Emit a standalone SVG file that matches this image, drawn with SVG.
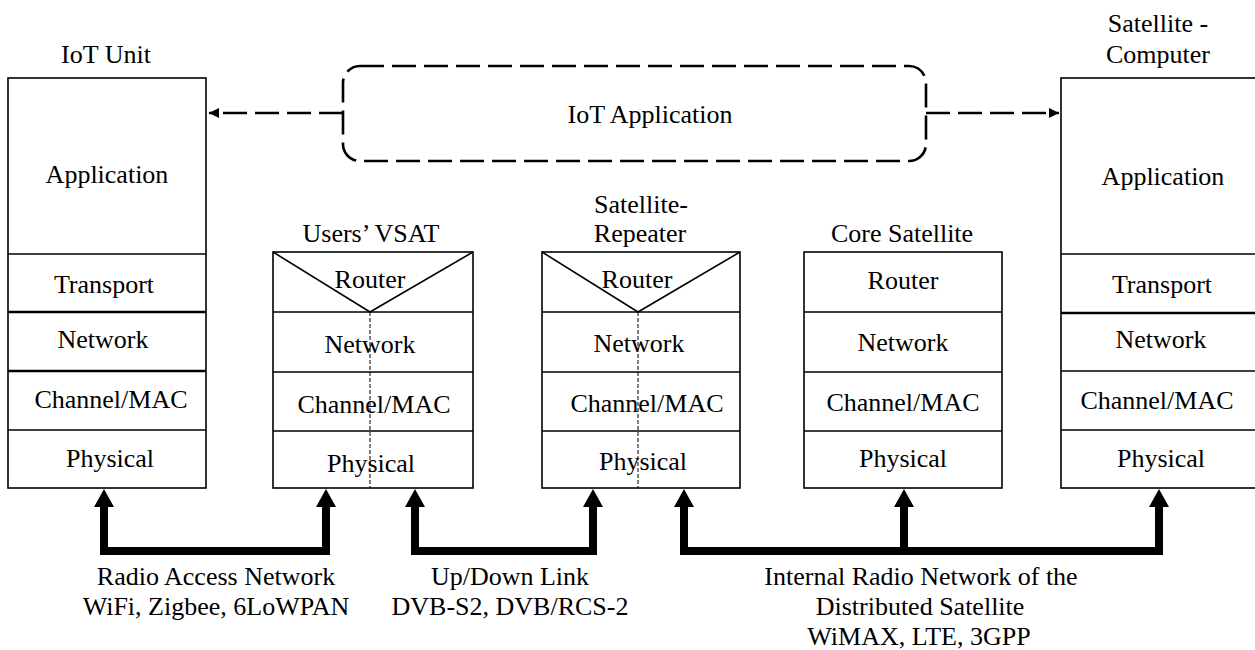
<svg xmlns="http://www.w3.org/2000/svg" width="1255" height="650" viewBox="0 0 1255 650">
  <defs>
    <style>
      text { font-family: "Liberation Serif", "Times New Roman", serif; font-size: 26px; fill: #000; text-anchor: middle; }
      .box { fill: #fff; stroke: #000; stroke-width: 1.6; }
      .div { stroke: #000; stroke-width: 1.6; }
      .divb { stroke: #000; stroke-width: 2.6; }
      .vee { fill: none; stroke: #000; stroke-width: 1.6; }
      .split { stroke: #000; stroke-width: 1; stroke-dasharray: 4 2; }
      .dash { fill: none; stroke: #000; stroke-width: 2.6; stroke-dasharray: 24 8; }
      .link { fill: none; stroke: #000; stroke-width: 8; stroke-linejoin: miter; stroke-linecap: butt; }
      .head { fill: #000; }
    </style>
    <marker id="ah" viewBox="0 0 10 10" refX="10" refY="5" markerWidth="4" markerHeight="4.5" orient="auto" markerUnits="strokeWidth">
      <path d="M0,0 L10,5 L0,10 z" fill="#000"/>
    </marker>
  </defs>

  <rect width="1255" height="650" fill="#fff"/>

  <!-- End host: IoT Unit -->
  <g id="iot-unit">
    <text x="106" y="63">IoT Unit</text>
    <rect class="box" x="8" y="78" width="198" height="410"/>
    <line class="div" x1="8" y1="254" x2="206" y2="254"/>
    <line class="divb" x1="8" y1="312" x2="206" y2="312"/>
    <line class="divb" x1="8" y1="371" x2="206" y2="371"/>
    <line class="div" x1="8" y1="430" x2="206" y2="430"/>
    <text x="107" y="183">Application</text>
    <text x="104" y="293">Transport</text>
    <text x="103" y="348">Network</text>
    <text x="111" y="408">Channel/MAC</text>
    <text x="110" y="467">Physical</text>
  </g>

  <!-- Users' VSAT -->
  <g id="users-vsat">
    <text x="371" y="242">Users’ VSAT</text>
    <rect class="box" x="273" y="252" width="200" height="236"/>
    <polyline class="vee" points="273,252 370,312 473,252"/>
    <line class="div" x1="273" y1="312" x2="473" y2="312"/>
    <line class="div" x1="273" y1="372" x2="473" y2="372"/>
    <line class="div" x1="273" y1="431" x2="473" y2="431"/>
    <line class="split" x1="370" y1="312" x2="370" y2="488"/>
    <text x="370" y="288">Router</text>
    <text x="370" y="353">Network</text>
    <text x="374" y="413">Channel/MAC</text>
    <text x="371" y="472">Physical</text>
  </g>

  <!-- Satellite repeater -->
  <g id="satellite-repeater">
    <text x="641" y="213">Satellite-</text>
    <text x="640" y="242">Repeater</text>
    <rect class="box" x="542" y="252" width="198" height="236"/>
    <polyline class="vee" points="542,252 638,312 740,252"/>
    <line class="div" x1="542" y1="312" x2="740" y2="312"/>
    <line class="div" x1="542" y1="372" x2="740" y2="372"/>
    <line class="div" x1="542" y1="431" x2="740" y2="431"/>
    <line class="split" x1="638" y1="312" x2="638" y2="488"/>
    <text x="637" y="288">Router</text>
    <text x="639" y="352">Network</text>
    <text x="647" y="412">Channel/MAC</text>
    <text x="643" y="470">Physical</text>
  </g>

  <!-- Core satellite -->
  <g id="core-satellite">
    <text x="902" y="242">Core Satellite</text>
    <rect class="box" x="804" y="252" width="198" height="236"/>
    <line class="div" x1="804" y1="312" x2="1002" y2="312"/>
    <line class="div" x1="804" y1="372" x2="1002" y2="372"/>
    <line class="div" x1="804" y1="431" x2="1002" y2="431"/>
    <text x="903" y="289">Router</text>
    <text x="903" y="351">Network</text>
    <text x="903" y="411">Channel/MAC</text>
    <text x="903" y="467">Physical</text>
  </g>

  <!-- End host: Satellite computer -->
  <g id="satellite-computer">
    <text x="1158" y="32">Satellite -</text>
    <text x="1158" y="63">Computer</text>
    <rect class="box" x="1061" y="78" width="202" height="410"/>
    <line class="div" x1="1061" y1="254" x2="1263" y2="254"/>
    <line class="divb" x1="1061" y1="313" x2="1263" y2="313"/>
    <line class="div" x1="1061" y1="371" x2="1263" y2="371"/>
    <line class="div" x1="1061" y1="430" x2="1263" y2="430"/>
    <text x="1163" y="185">Application</text>
    <text x="1162" y="293">Transport</text>
    <text x="1161" y="348">Network</text>
    <text x="1157" y="409">Channel/MAC</text>
    <text x="1161" y="467">Physical</text>
  </g>

  <!-- End-to-end application layer -->
  <g id="iot-application">
    <rect class="dash" x="343" y="66" width="583" height="95" rx="17" ry="17"/>
    <text x="650" y="123">IoT Application</text>
  </g>

  <g id="connectors">
    <!-- logical application links -->
    <line class="dash" x1="343" y1="113" x2="209" y2="113" marker-end="url(#ah)"/>
    <line class="dash" x1="926" y1="113" x2="1059" y2="113" marker-end="url(#ah)"/>

    <!-- radio access network -->
    <polyline class="link" points="104,506 104,551 326,551 326,506"/>
    <polygon class="head" points="104,489 94,507 114,507"/>
    <polygon class="head" points="326,489 316,507 336,507"/>

    <!-- up/down link -->
    <polyline class="link" points="415,506 415,551 593,551 593,506"/>
    <polygon class="head" points="415,489 405,507 425,507"/>
    <polygon class="head" points="593,489 583,507 603,507"/>

    <!-- internal radio network -->
    <polyline class="link" points="684,506 684,551 1159,551 1159,506"/>
    <line class="link" x1="904" y1="551" x2="904" y2="506"/>
    <polygon class="head" points="684,489 674,507 694,507"/>
    <polygon class="head" points="904,489 894,507 914,507"/>
    <polygon class="head" points="1159,489 1149,507 1169,507"/>
  </g>

  <g id="link-labels">
    <text x="216" y="585">Radio Access Network</text>
    <text x="216" y="615">WiFi, Zigbee, 6LoWPAN</text>
    <text x="510" y="585">Up/Down Link</text>
    <text x="510" y="615">DVB-S2, DVB/RCS-2</text>
    <text x="921" y="585">Internal Radio Network of the</text>
    <text x="920" y="615">Distributed Satellite</text>
    <text x="919" y="645">WiMAX, LTE, 3GPP</text>
  </g>
</svg>
